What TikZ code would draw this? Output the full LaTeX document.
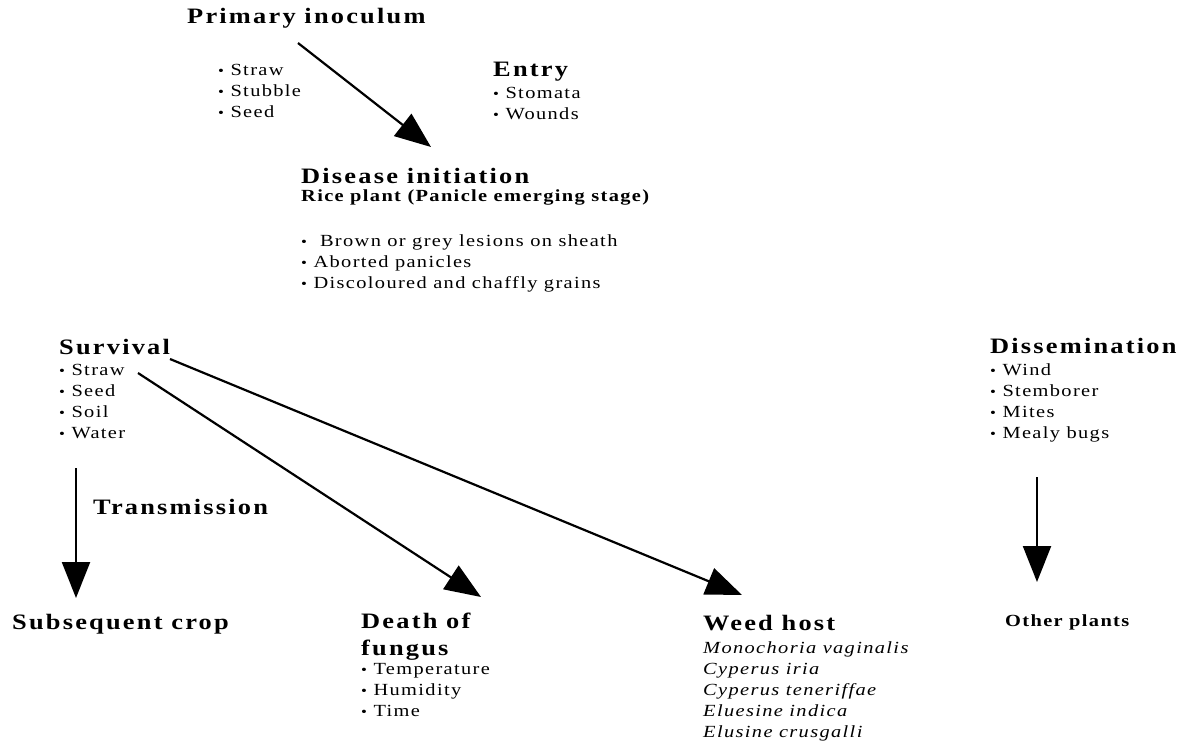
\documentclass[tikz,border=0pt]{standalone}
\usepackage{fontspec}
\setmainfont{Liberation Serif}[LetterSpace=8,FakeStretch=1.2]
\usetikzlibrary{arrows.meta}
\newcommand{\bu}{\raisebox{0.5pt}{\fontsize{14}{14}\selectfont\textbullet}\ }
\begin{document}
\begin{tikzpicture}[x=1pt,y=-1pt,
  head/.style={font=\bfseries\fontsize{22}{27}\selectfont\addfontfeature{LetterSpace=10},anchor=west,inner sep=0pt},
  small/.style={font=\bfseries\fontsize{17}{21}\selectfont,anchor=west,inner sep=0pt},
  list/.style={font=\fontsize{17}{21}\selectfont,anchor=north west,inner sep=0pt,align=left,execute at begin node=\strut},
  ilist/.style={list,font=\itshape\fontsize{17}{21}\selectfont},
  arr/.style={line width=2.2pt,-{Triangle[length=36pt,width=28pt]}}]
\path[use as bounding box,fill=white] (0,0) rectangle (1185,742);

\node[head] (prim) at (187,18) {Primary inoculum};
\node[list] (primL) at (218,64.5) {\bu Straw\\\bu Stubble\\\bu Seed};
\node[head] (entry) at (493,72) {Entry};
\node[list] (entryL) at (493,87.5) {\bu Stomata\\\bu Wounds};

\node[head] (dis) at (301,176) {Disease initiation};
\node[small] (rice) at (301,197) {Rice plant (Panicle emerging stage)};
\node[list] (disL) at (301,234.5) {\bu\ Brown or grey lesions on sheath\\\bu Aborted panicles\\\bu Discoloured and chaffly grains};

\node[head] (surv) at (59,347) {Survival};
\node[list] (survL) at (59,364.5) {\bu Straw\\\bu Seed\\\bu Soil\\\bu Water};
\node[head] (trans) at (93,507) {Transmission};
\node[head] (subs) at (12,624) {Subsequent crop};

\node[head,align=left,anchor=north west,execute at begin node=\strut] (death) at (361,613) {Death of\\fungus};
\node[list] (deathL) at (361,663.5) {\bu Temperature\\\bu Humidity\\\bu Time};

\node[head] (weed) at (703,623) {Weed host};
\node[ilist] (weedL) at (703,641.5) {Monochoria vaginalis\\Cyperus iria\\Cyperus teneriffae\\Eluesine indica\\Elusine crusgalli};

\node[head] (diss) at (990,346) {Dissemination};
\node[list] (dissL) at (990,363.5) {\bu Wind\\\bu Stemborer\\\bu Mites\\\bu Mealy bugs};
\node[small] (other) at (1005,622) {Other plants};

\coordinate (p1) at (298,43);  \coordinate (p2) at (431,147);
\coordinate (t1) at (76,468);  \coordinate (t2) at (76,598);
\coordinate (d1) at (138,373); \coordinate (d2) at (481,597);
\coordinate (w1) at (170,359); \coordinate (w2) at (742,595);
\coordinate (o1) at (1037,477); \coordinate (o2) at (1037,582);

\draw[arr] (p1) -- (p2);
\draw[arr] (t1) -- (t2);
\draw[arr] (d1) -- (d2);
\draw[arr] (w1) -- (w2);
\draw[arr] (o1) -- (o2);
\end{tikzpicture}
\end{document}
